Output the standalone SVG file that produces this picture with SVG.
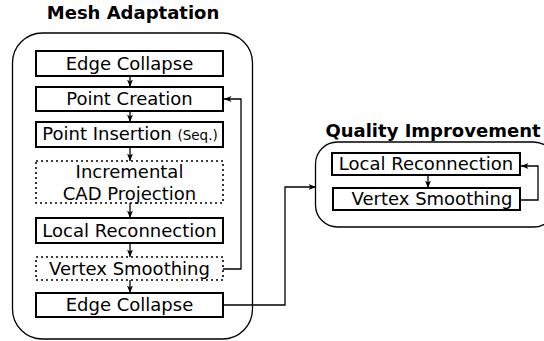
<svg xmlns="http://www.w3.org/2000/svg" width="544" height="341" viewBox="0 0 544 341">
<style>
.t{font-family:"DejaVu Sans",sans-serif;font-size:18px;fill:#000;text-anchor:middle}
.h{font-family:"DejaVu Sans",sans-serif;font-size:18px;font-weight:bold;fill:#000;text-anchor:middle}
.s{font-size:13.5px}
.b{fill:#fff;stroke:#000;stroke-width:2}
.d{fill:#fff;stroke:#000;stroke-width:1.6;stroke-dasharray:2 3}
.g{fill:none;stroke:#000;stroke-width:1.3}
.c{fill:none;stroke:#000;stroke-width:1.3;marker-end:url(#a)}
</style>
<defs>
<marker id="a" markerWidth="8" markerHeight="7" refX="7.5" refY="3.5" orient="auto" markerUnits="userSpaceOnUse">
<path d="M0,0.5 L7.5,3.5 L0,6.5 L2,3.5 Z" fill="#000"/>
</marker>
</defs>
<g id="mesh-adaptation">
<rect class="g" x="12.5" y="33" width="240" height="306" rx="30"/>
<text class="h" x="133" y="19">Mesh Adaptation</text>
</g>
<g id="quality-improvement">
<rect class="g" x="315.5" y="142" width="240" height="85" rx="22"/>
<text class="h" x="433" y="137">Quality Improvement</text>
</g>
<g id="edge-collapse-1"><rect class="b" x="36" y="51" width="187" height="25"/><text class="t" x="129.5" y="70">Edge Collapse</text></g>
<g id="point-creation"><rect class="b" x="36" y="87" width="187" height="24"/><text class="t" x="129.5" y="105">Point Creation</text></g>
<g id="point-insertion"><rect class="b" x="36" y="122" width="187" height="25"/><text class="t" x="130" y="140">Point Insertion <tspan class="s">(Seq.)</tspan></text></g>
<g id="cad-projection"><rect class="d" x="36" y="161" width="187" height="42"/><text class="t" x="129.5" y="178">Incremental</text><text class="t" x="129.5" y="200">CAD Projection</text></g>
<g id="local-reconnection-1"><rect class="b" x="36" y="218" width="187" height="25"/><text class="t" x="129.5" y="237">Local Reconnection</text></g>
<g id="vertex-smoothing-1"><rect class="d" x="36" y="257" width="187" height="23"/><text class="t" x="129.5" y="275">Vertex Smoothing</text></g>
<g id="edge-collapse-2"><rect class="b" x="36" y="293" width="187" height="24"/><text class="t" x="129.5" y="311">Edge Collapse</text></g>
<g id="local-reconnection-2"><rect class="b" x="332" y="153" width="188" height="22"/><text class="t" x="426" y="170">Local Reconnection</text></g>
<g id="vertex-smoothing-2"><rect class="b" x="333" y="188" width="187" height="22"/><text class="t" x="432" y="205">Vertex Smoothing</text></g>
<g id="connectors">
<path class="c" d="M130,76 V87"/>
<path class="c" d="M130,111 V122"/>
<path class="c" d="M130,147 V161"/>
<path class="c" d="M130,203 V218"/>
<path class="c" d="M130,243 V257"/>
<path class="c" d="M130,280 V293"/>
<path class="c" d="M223,269 H241 V99 H224"/>
<path class="c" d="M223,305 H285 V187 H316"/>
<path class="c" d="M428,175 V188"/>
<path class="c" d="M520,200 H538 V166 H521"/>
</g>
</svg>
